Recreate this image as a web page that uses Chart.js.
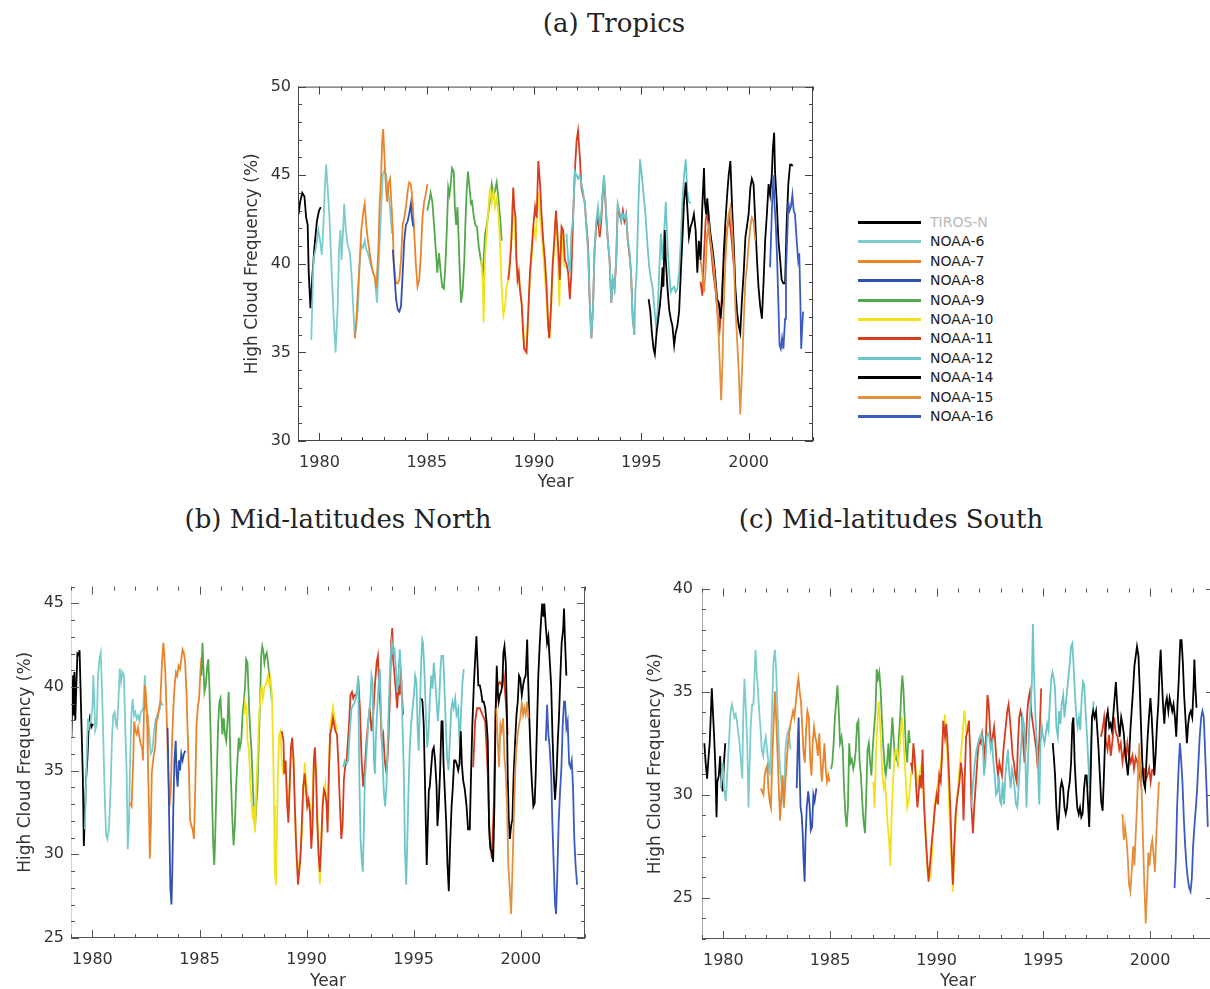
<!DOCTYPE html>
<html>
<head>
<meta charset="utf-8">
<script src="https://cdn.jsdelivr.net/npm/chart.js@4.4.1/dist/chart.umd.min.js"></script>
<style>
  html, body { margin: 0; padding: 0; background: #fff; }
  body { width: 1210px; height: 989px; position: relative; overflow: hidden; }
  canvas { position: absolute; }
  .ptitle { position: absolute; font-family: "DejaVu Serif", serif; font-size: 26px; color: #222; transform: translateX(-50%); white-space: nowrap; }
  #legend { position: absolute; left: 858px; top: 212px; width: 160px; height: 220px; font-family: "DejaVu Sans", sans-serif; font-size: 14px; color: #222; }
  #legend .sw { position: absolute; left: 0; width: 63px; height: 3px; }
  #legend .lb { position: absolute; left: 72px; white-space: nowrap; line-height: 20px; }
</style>
</head>
<body>
<div class="ptitle" style="left:614px; top:8px;">(a) Tropics</div>
<div class="ptitle" style="left:338px; top:504px;">(b) Mid-latitudes North</div>
<div class="ptitle" style="left:891px; top:504px;">(c) Mid-latitudes South</div>
<div id="legend"></div>
<canvas id="tropics" width="610" height="430" style="left:220px; top:70px;"></canvas>
<canvas id="north" width="600" height="430" style="left:0px; top:570px;"></canvas>
<canvas id="south" width="600" height="430" style="left:630px; top:570px;"></canvas>
<script>
// satellites, legend order
const satellites = ['TIROS-N', 'NOAA-6', 'NOAA-7', 'NOAA-8', 'NOAA-9', 'NOAA-10', 'NOAA-11', 'NOAA-12', 'NOAA-14', 'NOAA-15', 'NOAA-16'];
const satColors = ['#000000', '#7ccccc', '#e8842c', '#2f50b0', '#52a84a', '#f2e01c', '#d63c1e', '#6cc6c8', '#000000', '#e29040', '#3a5cc0'];
const yearTicks = [1980, 1985, 1990, 1995, 2000];

// ---- (a) Tropics: [year, high cloud %] ----
const tropTirosN = [[1979.03,42.8],[1979.1,43.5],[1979.2,44.0],[1979.3,43.8],[1979.38,42.6],[1979.45,42.2],[1979.5,39.5],[1979.58,37.5],[1979.68,39.5],[1979.77,41.0],[1979.88,42.4],[1979.98,43.0],[1980.06,43.2]];
const tropN6 = [[1979.62,35.7],[1979.72,40.2],[1979.85,41.0],[1979.95,41.9],[1980.03,41.3],[1980.11,40.5],[1980.18,42.1],[1980.26,44.5],[1980.31,45.6],[1980.37,44.5],[1980.46,42.8],[1980.57,39.5],[1980.68,36.5],[1980.75,35.0],[1980.85,37.6],[1980.91,40.8],[1980.98,41.9],[1981.03,40.2],[1981.11,42.1],[1981.15,43.4],[1981.23,41.9],[1981.31,41.1],[1981.42,40.6],[1981.49,39.5],[1981.57,37.6],[1981.65,35.8],[1981.72,36.5],[1981.8,37.6],[1981.88,40.2],[1981.95,41.1],[1982.03,40.9],[1982.11,41.3],[1982.18,40.8],[1982.26,40.6],[1982.42,39.8],[1982.57,39.3],[1982.68,37.8],[1982.77,40.2],[1982.88,43.2],[1982.95,45.0],[1983.03,45.3],[1983.11,45.0],[1983.18,44.3],[1983.26,43.5],[1983.38,41.7]];
const tropN7 = [[1981.65,35.8],[1981.72,36.9],[1981.8,38.7],[1981.88,40.2],[1981.95,41.9],[1982.03,42.8],[1982.11,43.4],[1982.18,42.2],[1982.26,41.3],[1982.34,40.6],[1982.42,40.0],[1982.49,39.5],[1982.57,39.3],[1982.65,38.6],[1982.69,39.5],[1982.75,41.0],[1982.8,43.2],[1982.88,45.2],[1982.92,46.9],[1982.97,47.6],[1983.02,46.3],[1983.06,45.2],[1983.11,44.1],[1983.15,43.5],[1983.22,44.5],[1983.29,44.8],[1983.35,43.5],[1983.42,41.9],[1983.46,40.2],[1983.51,39.5],[1983.57,38.9],[1983.65,38.9],[1983.72,39.1],[1983.8,40.2],[1983.88,42.2],[1983.95,42.6],[1984.03,43.2],[1984.11,44.1],[1984.18,44.6],[1984.26,44.5],[1984.34,43.5],[1984.42,41.7],[1984.49,40.0],[1984.57,38.7],[1984.65,39.1],[1984.72,40.4],[1984.8,42.6],[1984.88,43.5],[1984.95,43.9],[1985.03,44.5]];
const tropN8 = [[1983.42,40.8],[1983.49,39.5],[1983.57,38.0],[1983.65,37.4],[1983.72,37.3],[1983.8,37.6],[1983.88,39.5],[1983.95,41.3],[1984.03,42.2],[1984.11,42.4],[1984.18,42.8],[1984.26,43.4],[1984.31,42.6],[1984.37,42.1]];
const tropN9 = [[1985.03,43.0],[1985.11,43.5],[1985.18,44.0],[1985.26,43.5],[1985.34,42.2],[1985.42,40.8],[1985.49,39.5],[1985.57,40.6],[1985.65,39.5],[1985.72,38.7],[1985.8,38.6],[1985.88,40.2],[1985.95,42.4],[1986.0,44.3],[1986.06,43.9],[1986.12,44.5],[1986.18,45.4],[1986.26,45.2],[1986.31,43.2],[1986.37,42.2],[1986.43,43.2],[1986.49,41.3],[1986.54,39.5],[1986.6,37.8],[1986.68,38.6],[1986.75,40.2],[1986.8,42.2],[1986.86,44.1],[1986.92,45.2],[1986.98,44.5],[1987.06,43.4],[1987.11,43.5],[1987.18,42.8],[1987.26,42.2],[1987.34,42.1],[1987.42,41.0],[1987.52,40.2],[1987.62,39.5],[1987.72,41.7],[1987.8,42.2],[1987.91,43.2],[1988.03,44.5],[1988.11,43.9],[1988.18,44.1],[1988.26,44.6],[1988.34,43.7],[1988.42,42.6],[1988.49,41.3]];
const tropN10 = [[1987.54,40.2],[1987.62,38.6],[1987.65,36.7],[1987.72,40.4],[1987.8,41.9],[1987.88,43.2],[1987.95,44.3],[1988.03,43.5],[1988.11,44.1],[1988.18,43.2],[1988.26,43.7],[1988.34,42.8],[1988.42,41.0],[1988.49,38.7],[1988.57,37.1],[1988.65,37.6],[1988.72,38.7],[1988.8,39.1],[1988.95,41.5],[1989.03,44.0],[1989.15,40.6],[1989.3,39.0],[1989.45,37.5],[1989.55,35.4],[1989.65,35.1],[1989.8,39.0],[1990.0,42.0],[1990.08,41.5],[1990.2,44.0],[1990.3,42.5],[1990.45,40.2],[1990.55,38.5],[1990.65,36.5],[1990.72,35.8],[1990.8,37.5],[1990.88,39.8],[1990.95,41.0],[1991.0,42.5],[1991.08,41.5],[1991.18,37.6],[1991.25,41.5],[1991.3,41.8],[1991.38,40.0],[1991.45,39.8]];
const tropN11 = [[1988.8,39.1],[1988.88,40.0],[1988.95,41.5],[1989.03,44.3],[1989.08,43.2],[1989.14,42.6],[1989.18,40.2],[1989.23,39.1],[1989.29,39.5],[1989.34,38.6],[1989.42,37.8],[1989.49,36.1],[1989.54,35.2],[1989.65,35.0],[1989.81,39.5],[1989.97,42.2],[1990.05,43.2],[1990.12,42.6],[1990.2,45.8],[1990.28,44.5],[1990.35,42.8],[1990.43,41.3],[1990.51,40.2],[1990.59,38.6],[1990.66,36.5],[1990.71,35.8],[1990.79,37.6],[1990.86,39.8],[1990.94,41.3],[1991.02,43.0],[1991.08,41.9],[1991.16,40.2],[1991.2,39.1],[1991.28,42.1],[1991.36,41.9],[1991.44,40.2],[1991.51,40.0],[1991.59,39.5],[1991.67,38.0],[1991.74,39.5],[1991.82,42.6],[1991.9,45.2],[1991.98,46.9],[1992.05,47.5],[1992.13,46.1],[1992.21,44.3],[1992.28,43.9],[1992.36,43.5],[1992.44,42.2],[1992.52,41.0],[1992.59,38.0],[1992.67,35.8],[1992.75,37.6],[1992.82,40.8],[1992.9,42.1],[1992.98,42.6],[1993.06,41.5],[1993.13,42.4],[1993.21,44.1],[1993.26,44.8],[1993.3,44.1],[1993.36,42.8],[1993.44,41.3],[1993.52,40.2],[1993.6,37.8],[1993.67,39.1],[1993.75,38.6],[1993.83,40.2],[1993.9,43.2],[1993.98,42.8],[1994.06,42.4],[1994.14,43.0],[1994.21,42.4],[1994.29,42.8],[1994.37,41.3],[1994.44,40.6],[1994.52,39.5],[1994.6,36.9],[1994.68,36.0],[1994.75,null],
  [1997.76,39.0],[1997.84,38.2],[1997.92,40.5],[1998.0,42.5],[1998.07,43.0],[1998.15,41.8],[1998.25,40.8],[1998.35,39.5],[1998.45,38.6],[1998.55,37.2],[1998.65,36.3],[1998.72,37.5],[1998.8,39.5],[1998.9,41.0],[1999.0,42.0],[1999.1,42.6],[1999.2,41.5],[1999.3,40.0]];
const tropN12 = [[1991.51,41.7],[1991.59,40.2],[1991.67,39.5],[1991.74,41.7],[1991.82,42.6],[1991.9,45.2],[1991.98,45.0],[1992.05,44.8],[1992.13,45.0],[1992.21,44.5],[1992.28,44.1],[1992.36,43.4],[1992.44,42.1],[1992.52,40.6],[1992.59,38.0],[1992.67,35.8],[1992.75,37.6],[1992.82,40.8],[1992.9,42.4],[1992.98,43.2],[1993.06,42.2],[1993.13,42.8],[1993.21,44.3],[1993.26,45.0],[1993.3,44.3],[1993.36,42.8],[1993.44,41.3],[1993.52,40.2],[1993.6,37.8],[1993.67,39.1],[1993.75,38.6],[1993.83,40.2],[1993.9,43.4],[1993.98,43.0],[1994.06,42.4],[1994.14,42.8],[1994.21,42.6],[1994.29,42.8],[1994.37,41.3],[1994.44,40.8],[1994.52,39.5],[1994.6,36.9],[1994.68,36.0],[1994.72,38.4],[1994.78,39.5],[1994.86,43.2],[1994.94,45.9],[1995.02,45.0],[1995.09,44.1],[1995.19,42.8],[1995.29,41.0],[1995.37,39.8],[1995.45,39.1],[1995.52,38.7],[1995.6,37.6],[1995.68,36.5],[1995.76,37.3],[1995.83,39.5],[1995.91,41.7],[1995.99,40.2],[1996.06,41.7],[1996.14,43.5],[1996.22,41.0],[1996.3,39.5],[1996.37,38.4],[1996.45,38.6],[1996.53,38.7],[1996.6,38.4],[1996.68,38.6],[1996.76,39.5],[1996.84,41.3],[1996.91,43.4],[1996.99,45.0],[1997.07,45.9],[1997.14,44.1],[1997.22,43.5],[1997.3,43.4]];
const tropN14 = [[1995.34,38.0],[1995.42,37.3],[1995.49,36.1],[1995.57,35.2],[1995.63,34.9],[1995.71,36.1],[1995.79,36.9],[1995.86,37.6],[1995.94,38.7],[1995.99,39.8],[1996.03,38.7],[1996.09,41.9],[1996.14,40.2],[1996.22,38.6],[1996.3,37.4],[1996.37,36.9],[1996.45,36.5],[1996.53,35.4],[1996.6,36.1],[1996.68,36.5],[1996.76,37.3],[1996.84,39.5],[1996.91,41.3],[1996.99,43.5],[1997.07,44.6],[1997.14,43.2],[1997.22,41.5],[1997.3,42.1],[1997.38,42.4],[1997.45,42.8],[1997.53,41.9],[1997.61,39.5],[1997.68,41.3],[1997.76,40.2],[1997.84,43.2],[1997.92,45.4],[1997.96,43.5],[1998.02,42.8],[1998.07,43.7],[1998.15,42.6],[1998.22,41.7],[1998.3,41.0],[1998.38,40.2],[1998.46,39.1],[1998.53,38.0],[1998.61,37.8],[1998.69,36.9],[1998.77,38.0],[1998.84,40.6],[1998.92,42.4],[1999.0,43.9],[1999.07,45.0],[1999.15,45.8],[1999.23,43.2],[1999.31,41.0],[1999.38,38.7],[1999.46,37.3],[1999.54,36.5],[1999.61,36.1],[1999.69,38.0],[1999.77,39.5],[1999.85,41.5],[1999.92,42.1],[2000.0,42.8],[2000.08,44.3],[2000.15,44.8],[2000.23,44.5],[2000.31,42.4],[2000.39,40.2],[2000.46,38.7],[2000.54,37.6],[2000.62,36.9],[2000.7,39.1],[2000.77,41.3],[2000.85,42.8],[2000.93,44.5],[2001.0,43.9],[2001.08,45.0],[2001.13,46.5],[2001.19,47.4],[2001.23,45.2],[2001.31,43.5],[2001.39,41.3],[2001.47,40.2],[2001.54,39.1],[2001.62,38.9],[2001.7,38.9],[2001.77,42.2],[2001.85,44.5],[2001.93,45.6],[2002.0,45.6],[2002.05,45.5]];
const tropN15 = [[1997.76,40.2],[1997.84,39.5],[1997.92,38.4],[1997.99,39.5],[1998.07,41.7],[1998.15,42.2],[1998.22,41.3],[1998.3,40.6],[1998.38,39.8],[1998.46,38.7],[1998.53,37.6],[1998.61,35.8],[1998.67,33.9],[1998.72,32.3],[1998.78,34.3],[1998.84,37.6],[1998.92,40.2],[1999.0,41.9],[1999.07,42.8],[1999.15,43.2],[1999.23,42.1],[1999.31,40.2],[1999.38,37.6],[1999.46,35.8],[1999.54,33.9],[1999.61,31.5],[1999.69,33.9],[1999.77,36.7],[1999.85,39.1],[1999.92,39.8],[2000.0,41.1],[2000.08,42.1],[2000.15,42.6],[2000.23,42.4],[2000.31,41.3]];
const tropN16 = [[2001.0,39.8],[2001.05,41.7],[2001.11,43.9],[2001.16,45.0],[2001.2,43.5],[2001.27,42.1],[2001.33,40.2],[2001.39,37.6],[2001.44,35.4],[2001.5,35.2],[2001.56,35.8],[2001.62,35.2],[2001.7,36.9],[2001.74,39.5],[2001.81,41.9],[2001.85,43.5],[2001.91,43.0],[2001.97,43.2],[2002.04,43.9],[2002.1,43.0],[2002.16,42.8],[2002.24,41.3],[2002.31,40.2],[2002.36,40.6],[2002.41,38.0],[2002.45,35.2],[2002.5,36.5],[2002.54,37.3]];

// ---- (b) Mid-latitudes North ----
const northTirosN = [[1979.02,37.0],[1979.06,39.1],[1979.1,40.7],[1979.13,38.3],[1979.16,40.9],[1979.2,38.0],[1979.25,40.1],[1979.3,42.0],[1979.36,41.9],[1979.4,42.2],[1979.45,39.7],[1979.5,37.2],[1979.55,34.8],[1979.6,30.5],[1979.65,32.5],[1979.7,34.4],[1979.76,35.6],[1979.82,37.4],[1979.88,38.1],[1979.95,37.6],[1980.03,37.8]];
const northN6 = [[1979.65,31.5],[1979.73,35.6],[1979.79,38.1],[1979.83,37.6],[1979.91,37.95],[1980.0,38.7],[1980.04,40.7],[1980.09,39.1],[1980.13,37.4],[1980.2,37.75],[1980.26,40.7],[1980.33,41.7],[1980.39,42.05],[1980.45,39.7],[1980.51,36.8],[1980.58,33.3],[1980.64,31.1],[1980.7,30.9],[1980.78,31.7],[1980.86,34.4],[1980.91,36.8],[1980.97,38.3],[1981.04,38.5],[1981.1,37.75],[1981.15,37.6],[1981.21,39.1],[1981.28,41.1],[1981.34,40.3],[1981.4,40.9],[1981.47,40.7],[1981.53,37.75],[1981.6,34.8],[1981.65,30.3],[1981.71,31.9],[1981.76,35.6],[1981.82,38.3],[1981.88,39.3],[1981.94,38.3],[1982.0,38.5],[1982.07,38.1],[1982.13,38.3],[1982.2,37.95],[1982.26,38.5],[1982.37,38.7],[1982.45,40.7],[1982.5,39.1],[1982.56,37.95],[1982.64,37.6],[1982.72,36.0],[1982.8,36.2],[1982.88,37.4],[1982.96,38.1],[1983.02,38.3],[1983.09,38.5],[1983.15,38.7],[1983.21,39.1],[1983.3,38.9]];
const northN7 = [[1981.75,33.07],[1981.83,32.87],[1981.91,35.8],[1981.95,37.95],[1982.01,37.36],[1982.07,37.17],[1982.13,37.56],[1982.2,36.97],[1982.26,36.58],[1982.32,36.39],[1982.36,35.61],[1982.41,38.73],[1982.45,40.1],[1982.5,39.51],[1982.55,38.34],[1982.59,35.61],[1982.64,32.87],[1982.68,29.75],[1982.73,31.7],[1982.77,34.82],[1982.85,35.8],[1982.93,36.39],[1982.99,37.95],[1983.05,38.14],[1983.11,38.73],[1983.17,39.12],[1983.25,41.46],[1983.31,42.64],[1983.35,42.05],[1983.41,40.68],[1983.48,37.75],[1983.54,34.82],[1983.6,32.87],[1983.66,33.85],[1983.72,36.78],[1983.78,38.73],[1983.84,40.1],[1983.9,40.88],[1983.96,40.68],[1984.02,41.27],[1984.09,41.07],[1984.15,41.66],[1984.21,42.25],[1984.27,42.05],[1984.33,41.46],[1984.39,39.71],[1984.45,37.17],[1984.51,34.82],[1984.56,32.09],[1984.62,31.7],[1984.68,31.5],[1984.74,30.92],[1984.8,33.85],[1984.86,37.75],[1984.92,38.73],[1984.98,39.32],[1985.05,41.07],[1985.09,41.76]];
const northN8 = [[1983.51,37.56],[1983.55,34.82],[1983.6,30.92],[1983.64,27.99],[1983.69,27.01],[1983.73,28.96],[1983.78,32.87],[1983.83,35.61],[1983.89,36.78],[1983.93,34.82],[1983.98,34.04],[1984.04,35.61],[1984.09,35.02],[1984.15,36.0],[1984.21,35.61],[1984.27,36.0],[1984.34,36.19]];
const northN9 = [[1985.09,40.68],[1985.14,42.64],[1985.18,41.27],[1985.23,39.71],[1985.29,40.1],[1985.35,41.07],[1985.41,41.66],[1985.46,40.1],[1985.52,37.17],[1985.58,33.85],[1985.64,30.53],[1985.69,29.36],[1985.73,30.92],[1985.79,33.85],[1985.87,37.75],[1985.93,39.12],[1985.98,39.32],[1986.02,38.34],[1986.07,37.17],[1986.13,38.14],[1986.19,37.17],[1986.25,36.78],[1986.31,37.95],[1986.36,39.71],[1986.4,38.14],[1986.46,34.82],[1986.52,32.48],[1986.59,30.53],[1986.65,31.7],[1986.71,34.04],[1986.77,35.61],[1986.83,36.97],[1986.89,36.39],[1986.95,36.78],[1987.01,38.34],[1987.07,39.12],[1987.13,40.1],[1987.18,41.66],[1987.24,41.46],[1987.29,39.71],[1987.33,38.34],[1987.38,37.17],[1987.42,36.39],[1987.47,34.82],[1987.53,32.87],[1987.59,31.5],[1987.65,32.87],[1987.71,34.04],[1987.77,36.78],[1987.84,39.71],[1987.88,41.86],[1987.93,42.44],[1987.99,42.05],[1988.03,41.46],[1988.08,41.86],[1988.14,42.05],[1988.2,41.46],[1988.26,40.68],[1988.32,40.1],[1988.38,39.12]];
const northN10 = [[1987.09,38.34],[1987.13,39.12],[1987.2,38.73],[1987.24,36.78],[1987.29,36.39],[1987.33,35.61],[1987.38,34.04],[1987.44,32.87],[1987.5,32.09],[1987.55,32.87],[1987.59,31.31],[1987.65,33.85],[1987.71,35.61],[1987.77,37.95],[1987.84,39.32],[1987.9,40.1],[1987.96,39.32],[1988.02,39.9],[1988.08,40.1],[1988.14,40.29],[1988.2,40.68],[1988.26,40.1],[1988.32,40.49],[1988.38,39.51],[1988.43,36.78],[1988.48,32.87],[1988.52,28.96],[1988.57,28.18],[1988.61,30.92],[1988.66,34.82],[1988.72,37.17],[1988.78,37.36],[1988.84,35.61],[1988.92,34.8],[1989.02,35.2],[1989.15,32.5],[1989.27,36.0],[1989.39,35.8],[1989.5,31.0],[1989.62,28.6],[1989.78,31.2],[1989.91,35.5],[1990.03,33.5],[1990.16,33.0],[1990.22,31.0],[1990.34,35.8],[1990.44,35.2],[1990.56,30.2],[1990.62,28.2],[1990.75,33.2],[1990.87,34.2],[1990.98,32.0],[1991.1,37.6],[1991.23,38.8],[1991.35,37.8],[1991.42,37.4]];
const northN11 = [[1988.84,37.36],[1988.92,36.78],[1988.96,34.82],[1989.02,35.61],[1989.09,33.07],[1989.15,31.89],[1989.21,34.04],[1989.27,36.39],[1989.33,36.97],[1989.39,35.61],[1989.45,32.87],[1989.53,29.94],[1989.6,28.18],[1989.72,29.94],[1989.78,31.89],[1989.84,34.04],[1989.91,34.82],[1989.97,33.85],[1990.03,32.87],[1990.09,33.26],[1990.16,32.48],[1990.22,30.33],[1990.28,31.7],[1990.34,35.61],[1990.39,36.39],[1990.44,34.82],[1990.5,31.89],[1990.56,29.94],[1990.62,28.96],[1990.68,30.53],[1990.75,32.87],[1990.81,33.85],[1990.87,33.65],[1990.93,33.07],[1990.98,31.31],[1991.04,34.82],[1991.1,37.17],[1991.17,37.56],[1991.23,38.14],[1991.29,37.75],[1991.35,37.36],[1991.42,37.17],[1991.48,35.61],[1991.56,32.87],[1991.62,30.92],[1991.68,31.7],[1991.74,34.43],[1991.8,35.21],[1991.87,35.61],[1991.93,36.78],[1991.99,37.95],[1992.05,39.51],[1992.12,39.71],[1992.18,39.32],[1992.24,39.51],[1992.3,39.51],[1992.36,39.71],[1992.43,40.1],[1992.49,38.73],[1992.57,35.61],[1992.64,34.04],[1992.72,35.21],[1992.8,36.78],[1992.88,37.95],[1992.95,38.73],[1993.03,37.36],[1993.11,38.34],[1993.19,40.1],[1993.27,41.46],[1993.33,41.86],[1993.39,39.9],[1993.45,38.73],[1993.51,36.78],[1993.58,37.17],[1993.65,35.61],[1993.73,34.82],[1993.81,36.39],[1993.89,39.51],[1993.95,42.64],[1994.0,43.52],[1994.04,41.66],[1994.11,40.68],[1994.17,39.71],[1994.23,38.73],[1994.29,40.1],[1994.35,39.51],[1994.4,41.07],[1994.45,39.51],[1994.51,38.34],[1994.6,null],
  [1997.78,35.2],[1997.87,37.95],[1997.96,38.73],[1998.09,38.73],[1998.21,38.34],[1998.34,37.95],[1998.46,34.82],[1998.55,30.92],[1998.65,29.75],[1998.74,32.87],[1998.83,38.73],[1998.93,40.1],[1999.02,40.29],[1999.11,40.1],[1999.21,40.68],[1999.3,39.12],[1999.39,37.17]];
const northN12 = [[1991.71,35.21],[1991.79,35.61],[1991.87,35.41],[1991.94,35.61],[1992.02,37.36],[1992.1,38.73],[1992.18,38.93],[1992.26,39.12],[1992.33,39.51],[1992.41,40.68],[1992.46,34.82],[1992.52,30.92],[1992.58,29.55],[1992.63,28.96],[1992.67,31.31],[1992.72,34.43],[1992.78,35.61],[1992.85,37.17],[1992.91,38.34],[1992.97,39.12],[1993.03,40.68],[1993.08,40.29],[1993.14,35.61],[1993.19,34.82],[1993.23,36.78],[1993.3,38.73],[1993.36,40.1],[1993.42,41.07],[1993.48,38.34],[1993.55,35.61],[1993.61,33.65],[1993.67,32.87],[1993.73,34.04],[1993.79,36.78],[1993.84,39.12],[1993.89,40.68],[1993.93,41.86],[1993.98,42.64],[1994.04,42.05],[1994.11,42.25],[1994.17,41.07],[1994.23,39.71],[1994.29,40.68],[1994.35,42.25],[1994.42,40.68],[1994.48,37.75],[1994.54,34.82],[1994.6,29.94],[1994.65,28.18],[1994.7,30.53],[1994.76,33.85],[1994.82,36.39],[1994.88,37.75],[1994.95,38.73],[1995.01,39.51],[1995.07,40.68],[1995.13,40.29],[1995.18,37.75],[1995.23,36.19],[1995.29,38.73],[1995.35,41.46],[1995.4,42.83],[1995.44,42.64],[1995.51,40.68],[1995.57,38.34],[1995.63,36.39],[1995.69,37.17],[1995.75,39.12],[1995.82,40.68],[1995.88,39.9],[1995.94,41.46],[1996.0,40.49],[1996.07,39.12],[1996.13,37.95],[1996.19,39.12],[1996.25,41.07],[1996.3,41.86],[1996.38,41.86],[1996.44,39.9],[1996.5,37.75],[1996.56,35.8],[1996.63,35.02],[1996.69,36.78],[1996.75,38.54],[1996.81,39.12],[1996.87,38.73],[1996.94,39.32],[1997.0,38.34],[1997.08,38.73],[1997.15,36.39],[1997.22,38.73],[1997.28,40.29],[1997.34,41.07]];
const northN14 = [[1995.37,39.32],[1995.41,39.12],[1995.47,37.75],[1995.52,34.82],[1995.57,31.7],[1995.61,29.36],[1995.66,31.7],[1995.71,33.85],[1995.75,34.04],[1995.82,35.21],[1995.88,36.19],[1995.94,36.39],[1996.0,35.61],[1996.07,34.04],[1996.11,31.7],[1996.17,32.87],[1996.24,35.21],[1996.3,37.95],[1996.35,37.95],[1996.39,35.61],[1996.45,33.85],[1996.52,31.89],[1996.58,29.36],[1996.64,27.79],[1996.7,30.53],[1996.77,32.87],[1996.83,34.04],[1996.89,35.61],[1996.95,35.61],[1997.01,35.41],[1997.08,35.02],[1997.14,35.41],[1997.2,37.36],[1997.25,35.41],[1997.31,34.43],[1997.39,33.85],[1997.47,32.87],[1997.54,31.5],[1997.62,31.5],[1997.68,34.82],[1997.74,37.75],[1997.81,40.1],[1997.87,41.66],[1997.93,43.03],[1997.98,41.46],[1998.02,40.1],[1998.09,40.1],[1998.15,39.71],[1998.21,39.12],[1998.27,39.12],[1998.34,38.73],[1998.4,37.95],[1998.46,36.78],[1998.52,31.7],[1998.58,30.33],[1998.65,30.14],[1998.71,29.55],[1998.77,32.87],[1998.83,38.73],[1998.88,41.27],[1998.93,39.71],[1998.97,39.12],[1999.02,39.51],[1999.08,39.71],[1999.14,40.1],[1999.19,42.05],[1999.24,42.44],[1999.3,41.46],[1999.35,38.73],[1999.39,34.82],[1999.44,32.09],[1999.49,30.92],[1999.55,31.7],[1999.61,32.09],[1999.67,34.82],[1999.74,36.78],[1999.8,38.34],[1999.86,39.12],[1999.92,40.68],[1999.98,40.49],[2000.05,39.51],[2000.11,40.1],[2000.17,40.49],[2000.23,40.68],[2000.3,42.83],[2000.34,40.68],[2000.4,38.14],[2000.47,35.61],[2000.53,34.04],[2000.59,32.87],[2000.65,33.07],[2000.7,34.82],[2000.76,37.75],[2000.82,40.68],[2000.89,42.64],[2000.93,43.61],[2001.0,44.98],[2001.06,44.2],[2001.1,44.98],[2001.17,43.61],[2001.23,42.64],[2001.29,43.03],[2001.35,41.66],[2001.42,40.1],[2001.48,37.17],[2001.54,34.82],[2001.6,33.26],[2001.66,34.43],[2001.73,36.78],[2001.79,38.34],[2001.85,40.68],[2001.91,42.64],[2001.98,43.42],[2002.02,44.69],[2002.07,42.64],[2002.13,40.68]];
const northN15 = [[1998.86,38.73],[1998.94,36.39],[1998.99,35.21],[1999.05,37.75],[1999.11,37.36],[1999.18,38.14],[1999.24,35.8],[1999.3,34.82],[1999.36,32.87],[1999.42,29.36],[1999.49,27.79],[1999.55,26.43],[1999.61,28.96],[1999.67,31.89],[1999.74,34.82],[1999.8,36.39],[1999.86,37.17],[1999.92,37.75],[1999.98,38.14],[2000.05,39.12],[2000.11,38.34],[2000.17,38.73],[2000.23,38.34],[2000.3,39.12],[2000.36,38.14]];
const northN16 = [[2001.17,36.78],[2001.23,38.93],[2001.29,37.17],[2001.35,36.39],[2001.42,34.82],[2001.48,31.7],[2001.54,29.36],[2001.6,27.01],[2001.65,26.43],[2001.71,28.96],[2001.77,31.89],[2001.84,33.85],[2001.9,35.21],[2001.96,37.75],[2002.02,39.12],[2002.07,39.12],[2002.13,37.56],[2002.19,37.95],[2002.26,35.41],[2002.32,35.21],[2002.38,35.61],[2002.44,34.04],[2002.5,30.92],[2002.56,29.36],[2002.63,28.18]];

// ---- (c) Mid-latitudes South ----
const southTirosN = [[1979.11,32.5],[1979.17,31.56],[1979.24,30.78],[1979.3,31.72],[1979.36,32.5],[1979.42,34.06],[1979.46,35.16],[1979.51,34.06],[1979.57,32.81],[1979.63,31.25],[1979.68,28.91],[1979.72,30.63],[1979.79,30.94],[1979.85,31.88],[1979.91,30.63],[1979.97,30.16],[1980.03,31.56],[1980.09,32.5]];
const southN6 = [[1979.88,30.31],[1979.97,31.56],[1980.03,30.31],[1980.12,29.69],[1980.18,30.94],[1980.26,32.5],[1980.34,34.06],[1980.4,34.38],[1980.46,34.06],[1980.52,33.75],[1980.58,33.91],[1980.64,33.59],[1980.7,32.97],[1980.76,32.5],[1980.83,31.56],[1980.89,30.78],[1980.93,33.75],[1980.99,35.63],[1981.06,34.06],[1981.12,32.5],[1981.18,29.38],[1981.22,30.94],[1981.28,33.28],[1981.35,34.38],[1981.41,34.38],[1981.47,35.94],[1981.51,37.03],[1981.56,35.94],[1981.62,35.16],[1981.68,34.06],[1981.74,33.28],[1981.8,32.19],[1981.87,31.88],[1981.93,32.5],[1981.99,32.81],[1982.05,32.19],[1982.11,31.56],[1982.17,30.94],[1982.23,32.19],[1982.29,34.38],[1982.35,36.41],[1982.42,37.03],[1982.48,35.94],[1982.54,34.06],[1982.6,32.5],[1982.66,31.25],[1982.72,30.63],[1982.78,30.0],[1982.84,29.38],[1982.91,32.19],[1982.97,32.81],[1983.06,33.13],[1983.15,32.19]];
const southN7 = [[1981.76,30.31],[1981.82,30.16],[1981.88,30.0],[1981.94,30.94],[1982.0,31.25],[1982.06,31.41],[1982.11,30.31],[1982.17,29.69],[1982.23,29.38],[1982.29,31.56],[1982.35,33.28],[1982.42,35.0],[1982.48,33.59],[1982.54,32.03],[1982.6,30.31],[1982.66,28.75],[1982.72,30.0],[1982.78,30.94],[1982.84,29.38],[1982.91,30.63],[1982.97,31.56],[1983.03,32.5],[1983.09,32.97],[1983.15,33.44],[1983.21,33.75],[1983.27,34.06],[1983.33,33.75],[1983.39,34.38],[1983.46,35.16],[1983.52,35.63],[1983.58,35.0],[1983.64,34.53],[1983.7,33.28],[1983.76,32.03],[1983.82,31.56],[1983.88,33.13],[1983.94,34.06],[1984.01,33.75],[1984.07,31.72],[1984.13,30.94],[1984.19,32.5],[1984.25,33.28],[1984.31,32.81],[1984.37,32.5],[1984.43,31.88],[1984.5,32.97],[1984.56,31.56],[1984.62,30.63],[1984.68,31.56],[1984.74,32.5],[1984.8,31.25],[1984.86,30.63],[1984.92,30.94],[1984.98,30.63]];
const southN8 = [[1983.44,30.31],[1983.49,32.5],[1983.53,33.75],[1983.58,30.94],[1983.62,29.38],[1983.67,29.06],[1983.72,28.13],[1983.76,26.88],[1983.81,25.78],[1983.85,27.81],[1983.91,29.38],[1983.98,30.16],[1984.04,29.53],[1984.1,28.28],[1984.16,28.44],[1984.22,30.0],[1984.28,29.69],[1984.36,30.31]];
const southN9 = [[1985.05,31.25],[1985.11,31.56],[1985.17,32.5],[1985.23,33.75],[1985.29,34.53],[1985.35,35.31],[1985.41,34.06],[1985.47,32.5],[1985.54,32.81],[1985.6,32.19],[1985.66,30.31],[1985.72,29.06],[1985.78,28.44],[1985.84,29.38],[1985.9,32.5],[1985.96,31.56],[1986.02,31.72],[1986.09,31.25],[1986.15,31.56],[1986.21,32.19],[1986.27,33.44],[1986.33,33.59],[1986.39,31.56],[1986.45,30.94],[1986.51,29.69],[1986.57,28.75],[1986.64,28.13],[1986.7,30.0],[1986.76,32.19],[1986.82,32.5],[1986.88,31.56],[1986.94,30.94],[1987.0,32.19],[1987.06,33.13],[1987.13,34.06],[1987.19,36.09],[1987.25,35.63],[1987.31,35.94],[1987.37,35.16],[1987.43,33.75],[1987.49,32.5],[1987.55,31.56],[1987.61,30.94],[1987.68,31.56],[1987.74,32.5],[1987.8,31.25],[1987.86,32.5],[1987.92,33.75],[1987.98,32.81],[1988.04,31.72],[1988.1,31.88],[1988.17,31.56],[1988.23,32.81],[1988.29,33.75],[1988.35,35.16],[1988.39,35.78],[1988.44,35.16],[1988.5,33.75],[1988.56,32.19],[1988.62,31.56],[1988.69,33.13],[1988.75,32.5]];
const southN10 = [[1987.03,30.63],[1987.09,29.38],[1987.16,32.19],[1987.22,33.44],[1987.28,34.53],[1987.34,33.59],[1987.4,32.19],[1987.46,30.94],[1987.52,30.31],[1987.58,30.63],[1987.65,29.53],[1987.71,28.44],[1987.77,27.81],[1987.83,26.56],[1987.89,29.06],[1987.95,30.63],[1988.01,31.56],[1988.07,32.19],[1988.13,32.19],[1988.2,31.56],[1988.26,32.19],[1988.32,33.13],[1988.38,33.75],[1988.44,32.81],[1988.5,31.56],[1988.56,30.63],[1988.62,29.38],[1988.69,29.69],[1988.8,31.0],[1988.95,32.0],[1989.1,30.5],[1989.3,31.5],[1989.45,29.0],[1989.58,26.2],[1989.72,26.0],[1989.9,29.5],[1990.05,30.5],[1990.2,31.5],[1990.3,33.0],[1990.39,33.9],[1990.5,32.0],[1990.62,28.5],[1990.76,25.3],[1990.9,29.0],[1991.05,31.0],[1991.18,32.5],[1991.3,34.1],[1991.4,33.0]];
const southN11 = [[1988.79,31.56],[1988.85,31.25],[1988.91,32.5],[1988.98,31.56],[1989.04,30.31],[1989.1,29.38],[1989.16,30.16],[1989.22,30.94],[1989.28,30.31],[1989.34,32.19],[1989.4,29.69],[1989.46,28.44],[1989.53,27.19],[1989.62,25.78],[1989.78,27.81],[1989.84,28.44],[1989.92,29.38],[1990.0,30.0],[1990.06,29.53],[1990.12,30.94],[1990.19,30.63],[1990.25,31.88],[1990.31,33.59],[1990.39,32.81],[1990.45,33.44],[1990.51,32.5],[1990.58,30.94],[1990.64,29.38],[1990.7,27.34],[1990.76,25.63],[1990.82,27.5],[1990.89,29.06],[1990.95,29.69],[1991.01,30.16],[1991.07,30.63],[1991.14,31.56],[1991.2,30.94],[1991.26,28.75],[1991.32,30.94],[1991.38,32.81],[1991.45,33.13],[1991.51,33.59],[1991.57,32.19],[1991.63,29.38],[1991.7,28.13],[1991.76,29.38],[1991.82,30.31],[1991.88,31.25],[1991.94,32.19],[1992.01,32.66],[1992.07,32.5],[1992.13,32.97],[1992.19,32.5],[1992.26,31.56],[1992.32,33.13],[1992.38,34.84],[1992.44,34.38],[1992.5,33.13],[1992.57,32.19],[1992.63,32.81],[1992.69,33.28],[1992.75,32.5],[1992.81,31.56],[1992.88,30.94],[1992.94,31.56],[1993.0,31.25],[1993.06,30.94],[1993.13,32.19],[1993.19,32.81],[1993.25,33.44],[1993.31,34.06],[1993.37,34.38],[1993.44,33.59],[1993.5,32.81],[1993.56,31.88],[1993.62,31.56],[1993.69,30.94],[1993.75,30.63],[1993.81,32.5],[1993.87,33.75],[1993.93,34.06],[1994.0,33.75],[1994.06,32.5],[1994.12,31.56],[1994.18,32.5],[1994.25,34.06],[1994.31,34.69],[1994.37,35.0],[1994.43,34.06],[1994.51,33.44],[1994.59,32.81],[1994.67,32.19],[1994.74,31.25],[1994.82,32.81],[1994.9,35.16],[1994.95,null],
  [1997.7,32.81],[1997.78,33.2],[1997.85,33.75],[1997.93,32.6],[1998.01,32.19],[1998.08,32.9],[1998.16,31.88],[1998.24,32.6],[1998.32,33.75],[1998.4,33.0],[1998.48,32.81],[1998.56,32.2],[1998.63,32.5],[1998.71,31.6],[1998.79,32.19],[1998.87,31.7],[1998.94,32.5],[1999.02,31.9],[1999.1,31.56],[1999.18,31.9],[1999.25,31.25],[1999.33,31.8],[1999.41,31.56],[1999.49,31.0],[1999.56,30.63],[1999.64,31.3],[1999.72,31.25],[1999.8,30.7],[1999.88,30.94],[1999.96,31.3],[2000.03,30.63],[2000.11,31.25]];
const southN12 = [[1991.63,29.38],[1991.71,30.63],[1991.79,31.56],[1991.87,32.19],[1991.94,32.5],[1992.02,32.81],[1992.1,32.97],[1992.16,32.5],[1992.22,30.94],[1992.29,31.56],[1992.35,32.81],[1992.41,32.97],[1992.47,32.81],[1992.53,32.19],[1992.6,32.5],[1992.66,31.56],[1992.72,30.94],[1992.78,30.0],[1992.85,30.16],[1992.91,30.94],[1992.97,29.69],[1993.03,29.53],[1993.09,30.63],[1993.16,29.53],[1993.22,30.94],[1993.28,31.56],[1993.34,32.19],[1993.41,30.94],[1993.47,30.31],[1993.53,31.25],[1993.59,30.94],[1993.65,30.31],[1993.72,29.53],[1993.78,29.38],[1993.84,30.31],[1993.9,31.56],[1993.97,32.5],[1994.03,33.75],[1994.09,33.44],[1994.15,32.19],[1994.21,29.38],[1994.28,31.56],[1994.34,33.44],[1994.4,34.38],[1994.46,35.31],[1994.51,38.28],[1994.56,35.94],[1994.62,34.06],[1994.68,32.81],[1994.74,31.56],[1994.81,29.53],[1994.87,32.5],[1994.93,33.28],[1994.99,32.81],[1995.05,32.5],[1995.12,32.97],[1995.18,33.44],[1995.24,33.13],[1995.3,34.38],[1995.37,35.63],[1995.43,35.94],[1995.49,35.63],[1995.55,35.16],[1995.61,33.28],[1995.68,32.81],[1995.74,34.06],[1995.8,33.44],[1995.86,34.38],[1995.93,34.84],[1995.99,33.75],[1996.05,34.38],[1996.11,35.0],[1996.17,35.63],[1996.24,36.41],[1996.3,37.19],[1996.36,37.34],[1996.42,36.25],[1996.49,34.69],[1996.55,33.75],[1996.61,33.28],[1996.67,33.75],[1996.73,33.13],[1996.8,34.69],[1996.86,35.47],[1996.92,35.31],[1996.98,34.06],[1997.05,32.81],[1997.11,31.56],[1997.17,30.31],[1997.23,32.5],[1997.29,33.75],[1997.36,34.53]];
const southN14 = [[1995.44,32.5],[1995.49,31.88],[1995.55,30.94],[1995.61,29.38],[1995.68,28.28],[1995.74,29.06],[1995.8,30.31],[1995.86,30.63],[1995.93,30.31],[1995.99,29.38],[1996.05,29.06],[1996.11,29.38],[1996.17,30.16],[1996.24,30.63],[1996.3,31.56],[1996.36,33.44],[1996.41,33.75],[1996.47,31.56],[1996.53,30.31],[1996.59,29.38],[1996.66,29.06],[1996.72,29.38],[1996.78,28.91],[1996.84,29.06],[1996.91,30.31],[1996.97,30.94],[1997.03,30.94],[1997.09,29.69],[1997.15,28.44],[1997.22,30.94],[1997.28,33.75],[1997.34,34.06],[1997.4,33.75],[1997.47,34.06],[1997.53,33.13],[1997.59,32.19],[1997.65,30.94],[1997.71,29.69],[1997.78,29.22],[1997.84,30.94],[1997.9,32.81],[1997.96,33.75],[1998.02,34.06],[1998.09,33.28],[1998.15,33.44],[1998.21,33.13],[1998.27,33.75],[1998.34,34.69],[1998.4,35.47],[1998.46,34.38],[1998.52,33.44],[1998.58,32.81],[1998.65,33.75],[1998.71,33.44],[1998.77,32.97],[1998.83,32.19],[1998.9,31.56],[1998.96,30.94],[1999.02,31.72],[1999.08,33.13],[1999.14,34.06],[1999.21,35.16],[1999.27,36.25],[1999.33,36.72],[1999.39,37.19],[1999.46,36.72],[1999.52,35.16],[1999.58,33.28],[1999.64,31.56],[1999.7,30.63],[1999.77,30.31],[1999.83,31.56],[1999.89,32.81],[1999.95,33.75],[2000.02,34.69],[2000.08,33.75],[2000.14,32.5],[2000.2,30.94],[2000.26,31.88],[2000.33,33.44],[2000.39,34.38],[2000.45,36.09],[2000.5,37.03],[2000.54,35.94],[2000.61,34.38],[2000.67,33.44],[2000.73,34.38],[2000.79,34.69],[2000.86,34.06],[2000.92,34.69],[2000.98,34.38],[2001.04,34.06],[2001.1,34.38],[2001.17,33.75],[2001.23,32.81],[2001.29,34.38],[2001.35,35.63],[2001.42,37.5],[2001.48,37.5],[2001.54,36.41],[2001.6,34.84],[2001.66,33.75],[2001.73,32.5],[2001.79,33.44],[2001.85,33.91],[2001.91,34.06],[2001.98,33.75],[2002.04,35.16],[2002.08,36.56],[2002.13,35.16],[2002.18,34.22]];
const southN15 = [[1998.71,29.06],[1998.77,27.81],[1998.83,28.44],[1998.9,27.81],[1998.96,26.88],[1999.02,25.63],[1999.08,25.31],[1999.14,26.25],[1999.21,27.5],[1999.27,26.56],[1999.33,28.13],[1999.39,29.38],[1999.46,31.56],[1999.5,32.5],[1999.55,30.94],[1999.61,30.16],[1999.67,27.81],[1999.74,25.47],[1999.8,23.75],[1999.86,25.31],[1999.92,27.19],[1999.98,26.56],[2000.05,27.5],[2000.11,27.81],[2000.17,27.03],[2000.23,26.25],[2000.3,28.13],[2000.36,29.38],[2000.42,30.63]];
const southN16 = [[2001.15,25.47],[2001.21,26.88],[2001.27,29.38],[2001.34,31.25],[2001.4,32.5],[2001.46,31.72],[2001.52,30.63],[2001.59,28.75],[2001.65,27.5],[2001.71,26.56],[2001.77,25.94],[2001.84,25.47],[2001.9,25.31],[2001.96,25.94],[2002.02,27.5],[2002.08,28.44],[2002.15,29.38],[2002.21,30.31],[2002.27,31.56],[2002.33,32.81],[2002.4,33.75],[2002.46,34.06],[2002.52,33.75],[2002.58,32.19],[2002.65,30.31],[2002.71,28.44]];

const tropicsSeries = [tropTirosN, tropN6, tropN7, tropN8, tropN9, tropN10, tropN11, tropN12, tropN14, tropN15, tropN16];
const northSeries = [northTirosN, northN6, northN7, northN8, northN9, northN10, northN11, northN12, northN14, northN15, northN16];
const southSeries = [southTirosN, southN6, southN7, southN8, southN9, southN10, southN11, southN12, southN14, southN15, southN16];

// legend (HTML, to the right of panel a), rows on whole pixels
const legendEl = document.getElementById('legend');
satellites.forEach((name, i) => {
  const top = Math.round(i * 19.4);
  const sw = document.createElement('span');
  sw.className = 'sw';
  sw.style.top = (top + 9) + 'px';
  sw.style.background = satColors[i];
  const lb = document.createElement('span');
  lb.className = 'lb';
  lb.style.top = top + 'px';
  lb.style.color = i === 0 ? '#b8b8b8' : '#222';
  lb.textContent = name;
  legendEl.appendChild(sw);
  legendEl.appendChild(lb);
});

// axis frame + inward IDL-style ticks
const framePlugin = {
  id: 'frame',
  afterDraw(chart, args, opts) {
    const { ctx, chartArea: a, scales: { x, y } } = chart;
    ctx.save();
    ctx.lineWidth = 1;
    const side = (col, x1, y1, x2, y2) => {
      if (!col) return;
      ctx.strokeStyle = col;
      ctx.beginPath(); ctx.moveTo(x1, y1); ctx.lineTo(x2, y2); ctx.stroke();
    };
    side(opts.left, a.left + 0.5, a.top, a.left + 0.5, a.bottom);
    side(opts.right, a.right - 0.5, a.top, a.right - 0.5, a.bottom);
    side(opts.top, a.left, a.top + 0.5, a.right, a.top + 0.5);
    side(opts.bottom, a.left, a.bottom - 0.5, a.right, a.bottom - 0.5);
    ctx.strokeStyle = opts.tickColor;
    ctx.beginPath();
    for (let yr = Math.ceil(x.min); yr <= x.max; yr++) {
      const px = Math.round(x.getPixelForValue(yr)) + 0.5;
      const len = yr % 5 === 0 ? 8 : 4;
      ctx.moveTo(px, a.bottom); ctx.lineTo(px, a.bottom - len);
      ctx.moveTo(px, a.top); ctx.lineTo(px, a.top + len);
    }
    for (let v = Math.ceil(y.min); v <= y.max; v++) {
      const py = Math.round(y.getPixelForValue(v)) + 0.5;
      const len = v % 5 === 0 ? 8 : 4;
      ctx.moveTo(a.left, py); ctx.lineTo(a.left + len, py);
      if (opts.rightTicks) { ctx.moveTo(a.right, py); ctx.lineTo(a.right - len, py); }
    }
    ctx.stroke();
    ctx.restore();
  }
};

function makeChart(id, series, cfg) {
  const tickFont = { family: 'DejaVu Sans', size: 16 };
  const titleFont = { family: 'DejaVu Sans', size: 17 };
  new Chart(document.getElementById(id), {
    type: 'line',
    data: {
      datasets: series.map((pts, i) => ({
        label: satellites[i],
        data: pts.map(p => ({ x: p[0], y: p[1] })),
        borderColor: satColors[i],
        borderWidth: 1.8,
        pointRadius: 0,
        tension: 0,
        fill: false,
        spanGaps: false,
        order: -i
      }))
    },
    options: {
      responsive: false,
      animation: false,
      events: [],
      layout: { padding: { top: cfg.padTop, right: cfg.padRight, left: 0, bottom: 0 } },
      plugins: {
        legend: { display: false },
        tooltip: { enabled: false },
        frame: cfg.frame
      },
      scales: {
        x: {
          type: 'linear',
          min: 1979,
          max: 2003,
          afterBuildTicks: s => { s.ticks = yearTicks.map(v => ({ value: v })); },
          afterFit: s => { s.height = cfg.xHeight; },
          grid: { display: false, drawTicks: false },
          border: { display: false },
          ticks: { font: tickFont, color: '#333', padding: 12, maxRotation: 0, autoSkip: false, callback: v => String(v) },
          title: { display: true, text: 'Year', font: titleFont, color: '#333', padding: { top: 0, bottom: cfg.yearPad } }
        },
        y: {
          min: cfg.yMin,
          max: cfg.yMax,
          afterBuildTicks: s => { s.ticks = cfg.yTicks.map(v => ({ value: v })); },
          afterFit: s => { s.width = cfg.yWidth; },
          grid: { display: false, drawTicks: false },
          border: { display: false },
          ticks: { font: tickFont, color: '#333', padding: cfg.yTickPad },
          title: { display: true, text: 'High Cloud Frequency (%)', font: titleFont, color: '#333', padding: { top: cfg.yTitlePad, bottom: 0 } }
        }
      }
    },
    plugins: [framePlugin]
  });
}

makeChart('tropics', tropicsSeries, {
  yMin: 30, yMax: 50, yTicks: [30, 35, 40, 45, 50],
  padTop: 10, padRight: 17, xHeight: 59, yWidth: 78, yTickPad: 7, yTitlePad: 22, yearPad: 7,
  frame: { left: '#444', right: '#444', top: '#444', bottom: '#444', tickColor: '#444', rightTicks: true }
});
makeChart('north', northSeries, {
  yMin: 25, yMax: 46, yTicks: [25, 30, 35, 40, 45],
  padTop: 9, padRight: 15, xHeight: 62, yWidth: 71, yTickPad: 7, yTitlePad: 15, yearPad: 8,
  frame: { left: '#d8d8d8', right: '#555', top: null, bottom: '#555', tickColor: '#555', rightTicks: true }
});
makeChart('south', southSeries, {
  yMin: 23, yMax: 40, yTicks: [25, 30, 35, 40],
  padTop: 7, padRight: 16, xHeight: 61, yWidth: 72, yTickPad: 9, yTitlePad: 15, yearPad: 8,
  frame: { left: '#aaa', right: '#555', top: null, bottom: '#555', tickColor: '#555', rightTicks: true }
});
</script>
</body>
</html>
